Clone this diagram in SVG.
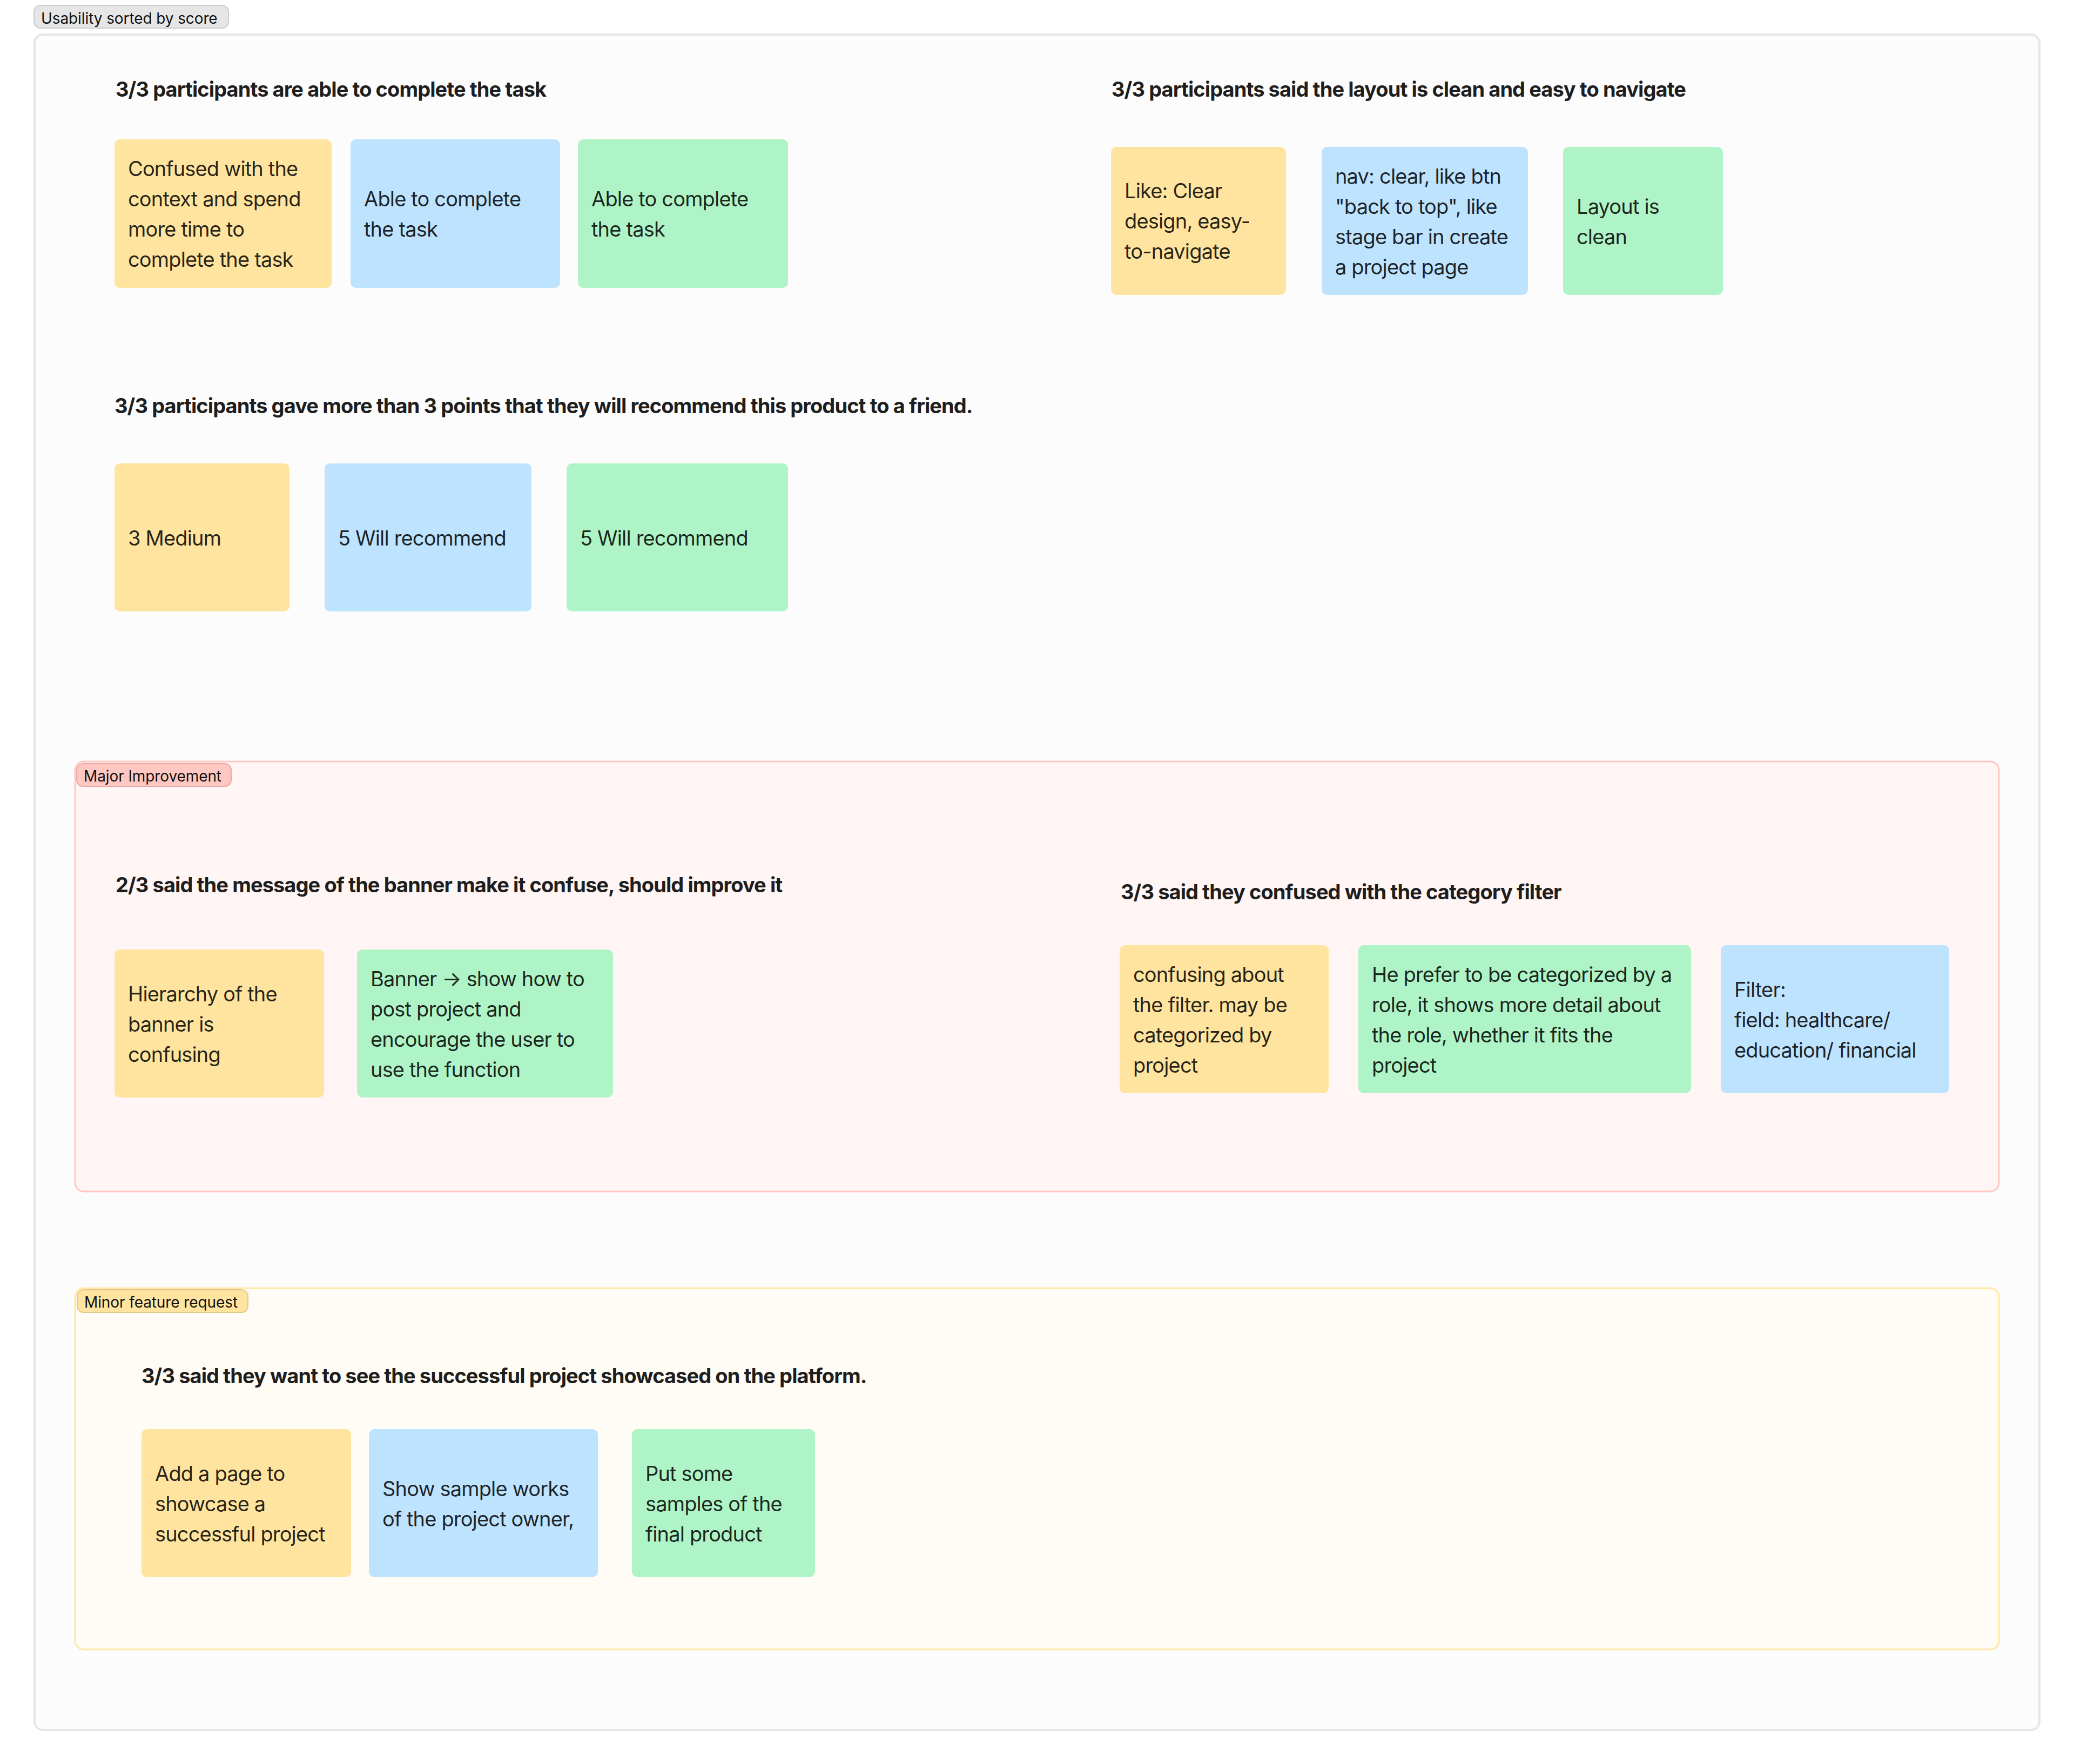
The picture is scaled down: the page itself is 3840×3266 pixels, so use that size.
<svg xmlns="http://www.w3.org/2000/svg" width="3840" height="3266" viewBox="0 0 3840 3266">
<style>
text{font-family:Inter,"Liberation Sans",sans-serif}
.c{font-size:38px;letter-spacing:-.84px;fill:#000;fill-opacity:.85}
.h{font-size:38px;font-weight:700;letter-spacing:-.92px;fill:#1e1e1e}
.t{font-size:28px;letter-spacing:-.1px;fill:#111}
.y{fill:#ffe49f}.b{fill:#bde3ff}.g{fill:#aff4c6}
</style>
<rect width="3840" height="3266" fill="#fff"/>
<g id="section-usability">
<rect x="64" y="64" width="3712" height="3139" rx="16" fill="#fcfcfc" stroke="#e6e6e6" stroke-width="4"/>
<rect x="63" y="10" width="360" height="42" rx="12" fill="#e6e6e6" stroke="#ccc" stroke-width="2"/>
<text class="t" x="76" y="44">Usability sorted by score</text>
</g>
<g id="section-major">
<rect x="139" y="1410" width="3562" height="796" rx="16" fill="#fff5f4" stroke="#ffc7c2" stroke-width="3"/>
<rect x="142" y="1414" width="286" height="42" rx="12" fill="#ffc7c2" stroke="#e6a8a3" stroke-width="2"/>
<text class="t" x="155" y="1447">Major Improvement</text>
</g>
<g id="section-minor">
<rect x="139" y="2385" width="3562" height="669" rx="16" fill="#fffcf5" stroke="#ffe8a3" stroke-width="3"/>
<rect x="143" y="2388" width="316" height="42" rx="12" fill="#ffe49f" stroke="#e0c98a" stroke-width="2"/>
<text class="t" x="156" y="2421">Minor feature request</text>
</g>
<g id="headings">
<text class="h" x="214" y="179">3/3 participants are able to complete the task</text>
<text class="h" x="2058" y="179">3/3 participants said the layout is clean and easy to navigate</text>
<text class="h" x="212" y="765">3/3 participants gave more than 3 points that they will recommend this product to a friend.</text>
<text class="h" x="214" y="1652">2/3 said the message of the banner make it confuse, should improve it</text>
<text class="h" x="2075" y="1665">3/3 said they confused with the category filter</text>
<text class="h" x="262" y="2561">3/3 said they want to see the successful project showcased on the platform.</text>
</g>
<g id="n1"><rect class="y" x="212" y="258" width="402" height="275" rx="10"/><text class="c"><tspan x="237" y="326">Confused with the</tspan><tspan x="237" y="382">context and spend</tspan><tspan x="237" y="438">more time to</tspan><tspan x="237" y="494">complete the task</tspan></text></g>
<g id="n2"><rect class="b" x="649" y="258" width="388" height="275" rx="10"/><text class="c"><tspan x="674" y="382">Able to complete</tspan><tspan x="674" y="438">the task</tspan></text></g>
<g id="n3"><rect class="g" x="1070" y="258" width="389" height="275" rx="10"/><text class="c"><tspan x="1095" y="382">Able to complete</tspan><tspan x="1095" y="438">the task</tspan></text></g>
<g id="n4"><rect class="y" x="2057" y="272" width="324" height="274" rx="10"/><text class="c"><tspan x="2082" y="367">Like: Clear</tspan><tspan x="2082" y="423">design, easy-</tspan><tspan x="2082" y="479">to-navigate</tspan></text></g>
<g id="n5"><rect class="b" x="2447" y="272" width="382" height="274" rx="10"/><text class="c"><tspan x="2472" y="340">nav: clear, like btn</tspan><tspan x="2472" y="396">"back to top", like</tspan><tspan x="2472" y="452">stage bar in create</tspan><tspan x="2472" y="508">a project page</tspan></text></g>
<g id="n6"><rect class="g" x="2894" y="272" width="296" height="274" rx="10"/><text class="c"><tspan x="2919" y="396">Layout is</tspan><tspan x="2919" y="452">clean</tspan></text></g>
<g id="n7"><rect class="y" x="212" y="858" width="324" height="274" rx="10"/><text class="c" x="237" y="1010">3 Medium</text></g>
<g id="n8"><rect class="b" x="601" y="858" width="383" height="274" rx="10"/><text class="c" x="626" y="1010">5 Will recommend</text></g>
<g id="n9"><rect class="g" x="1049" y="858" width="410" height="274" rx="10"/><text class="c" x="1074" y="1010">5 Will recommend</text></g>
<g id="n10"><rect class="y" x="212" y="1758" width="388" height="274" rx="10"/><text class="c"><tspan x="237" y="1854">Hierarchy of the</tspan><tspan x="237" y="1910">banner is</tspan><tspan x="237" y="1966">confusing</tspan></text></g>
<g id="n11"><rect class="g" x="661" y="1758" width="474" height="274" rx="10"/><text class="c"><tspan x="686" y="1826">Banner → show how to</tspan><tspan x="686" y="1882">post project and</tspan><tspan x="686" y="1938">encourage the user to</tspan><tspan x="686" y="1994">use the function</tspan></text></g>
<g id="n12"><rect class="y" x="2073" y="1750" width="387" height="274" rx="10"/><text class="c"><tspan x="2098" y="1818">confusing about</tspan><tspan x="2098" y="1874">the filter. may be</tspan><tspan x="2098" y="1930">categorized by</tspan><tspan x="2098" y="1986">project</tspan></text></g>
<g id="n13"><rect class="g" x="2515" y="1750" width="616" height="274" rx="10"/><text class="c"><tspan x="2540" y="1818">He prefer to be categorized by a</tspan><tspan x="2540" y="1874">role, it shows more detail about</tspan><tspan x="2540" y="1930">the role, whether it fits the</tspan><tspan x="2540" y="1986">project</tspan></text></g>
<g id="n14"><rect class="b" x="3186" y="1750" width="423" height="274" rx="10"/><text class="c"><tspan x="3211" y="1846">Filter:</tspan><tspan x="3211" y="1902">field: healthcare/</tspan><tspan x="3211" y="1958">education/ financial</tspan></text></g>
<g id="n15"><rect class="y" x="262" y="2646" width="388" height="274" rx="10"/><text class="c"><tspan x="287" y="2742">Add a page to</tspan><tspan x="287" y="2798">showcase a</tspan><tspan x="287" y="2854">successful project</tspan></text></g>
<g id="n16"><rect class="b" x="683" y="2646" width="424" height="274" rx="10"/><text class="c"><tspan x="708" y="2770">Show sample works</tspan><tspan x="708" y="2826">of the project owner,</tspan></text></g>
<g id="n17"><rect class="g" x="1170" y="2646" width="339" height="274" rx="10"/><text class="c"><tspan x="1195" y="2742">Put some</tspan><tspan x="1195" y="2798">samples of the</tspan><tspan x="1195" y="2854">final product</tspan></text></g>
<g id="connectors"></g>
</svg>
